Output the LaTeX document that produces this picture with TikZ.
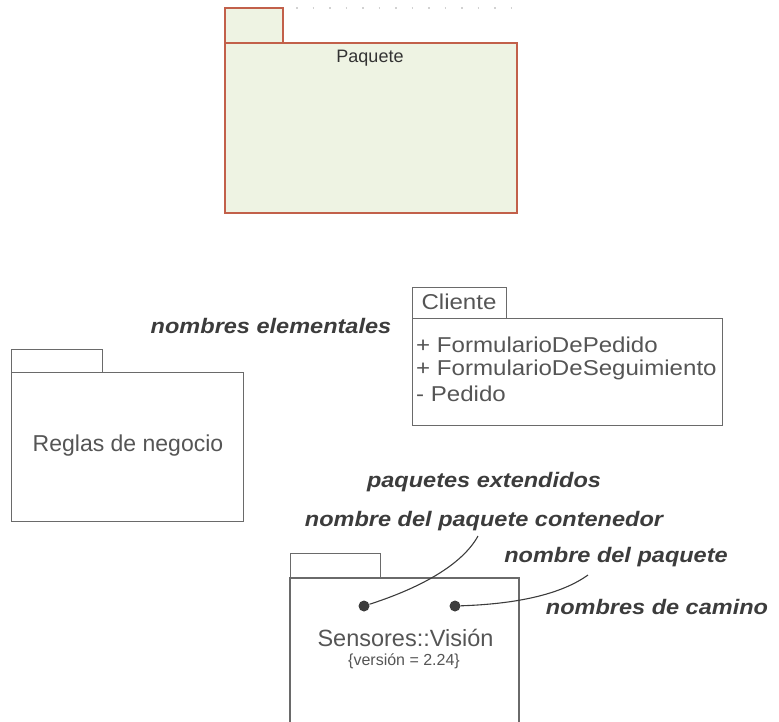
\documentclass[tikz,border=0pt]{standalone}
\usepackage{fontspec}
\setmainfont{Liberation Sans}
\newfontfamily\labfont[FakeStretch=1.12]{Liberation Sans}
\newfontfamily\pkgfont[FakeStretch=1.12]{Liberation Sans}
\definecolor{pkgfill}{HTML}{EEF3E3}
\definecolor{pkgred}{HTML}{C2604A}
\definecolor{linegray}{HTML}{6A6A6A}
\definecolor{txtgray}{HTML}{555555}
\definecolor{labgray}{HTML}{3C3C3C}
\tikzset{
  redbox/.style={draw=pkgred, fill=pkgfill, line width=2pt, inner sep=0pt, anchor=north west},
  graybox/.style={draw=linegray, line width=1.1pt, inner sep=0pt, anchor=north west},
  ptext/.style={text=txtgray, inner sep=0pt},
  lab/.style={text=labgray, inner sep=0pt, font=\labfont\bfseries\itshape\fontsize{21}{25}\selectfont},
  dotnode/.style={circle, fill=labgray, draw=none, minimum size=11pt, inner sep=0pt},
  leader/.style={draw=labgray, line width=1.1pt}
}
\begin{document}
\begin{tikzpicture}[x=1pt,y=-1pt]
\useasboundingbox (0,0) rectangle (779,721);
% top package
\draw[gray!35, line width=1.5pt, dotted, dash pattern=on 1.5pt off 15pt] (296,8) -- (515,8);
\node[redbox, minimum width=58pt, minimum height=35pt] (ptab) at (224,7) {};
\node[redbox, minimum width=292pt, minimum height=170pt] (pbody) at (224,42) {};
\node[ptext, text=black!80, font=\fontsize{18}{21}\selectfont] (plab) at (370,58) {Paquete};
% Reglas de negocio
\node[graybox, minimum width=91pt, minimum height=23pt] (rtab) at (11,349) {};
\node[graybox, minimum width=232pt, minimum height=149pt] (rbody) at (11,372) {};
\node[ptext, font=\fontsize{23}{27}\selectfont] (rlab) at (128,446) {Reglas de negocio};
% Cliente
\node[graybox, minimum width=94pt, minimum height=31pt] (ctab) at (412,287) {};
\node[graybox, minimum width=310pt, minimum height=107pt] (cbody) at (412,318) {};
\node[ptext, font=\pkgfont\fontsize{21.5}{25}\selectfont] (clab) at (459,302) {Cliente};
\node[ptext, anchor=west, font=\pkgfont\fontsize{21.5}{25}\selectfont] (c1) at (416,345) {+ FormularioDePedido};
\node[ptext, anchor=west, font=\pkgfont\fontsize{21.5}{25}\selectfont] (c2) at (416,369.5) {+ FormularioDeSeguimiento};
\node[ptext, anchor=west, font=\pkgfont\fontsize{21.5}{25}\selectfont] (c3) at (416,394) {- Pedido};
% Sensores package (cut at bottom)
\node[graybox, minimum width=90pt, minimum height=25pt] (stab) at (290,553) {};
\draw[linegray, line width=1.1pt] (290,730) -- (290,578) -- (519,578) -- (519,730);
\node[ptext, font=\fontsize{23.5}{28}\selectfont] (slab) at (405.5,638) {Sensores::Visión};
\node[ptext, font=\fontsize{16}{19}\selectfont] (sver) at (404,661) {\{versión = 2.24\}};
% labels
\node[lab] (elem) at (271,326) {nombres elementales};
\node[lab] (ext) at (484,482) {paquetes extendidos};
\node[lab] (cont) at (484,521) {nombre del paquete contenedor};
\node[lab] (npaq) at (616,557) {nombre del paquete};
\node[lab] (camino) at (657,607) {nombres de camino};
% dots and leaders
\node[dotnode] (d1) at (364,606) {};
\node[dotnode] (d2) at (455,606) {};
\coordinate (e1) at (478,536);
\coordinate (e2) at (588,575);
\draw[leader] (d1) .. controls (420,588) and (462,565) .. (e1);
\draw[leader] (d2) .. controls (515,604) and (560,595) .. (e2);
\end{tikzpicture}
\end{document}
